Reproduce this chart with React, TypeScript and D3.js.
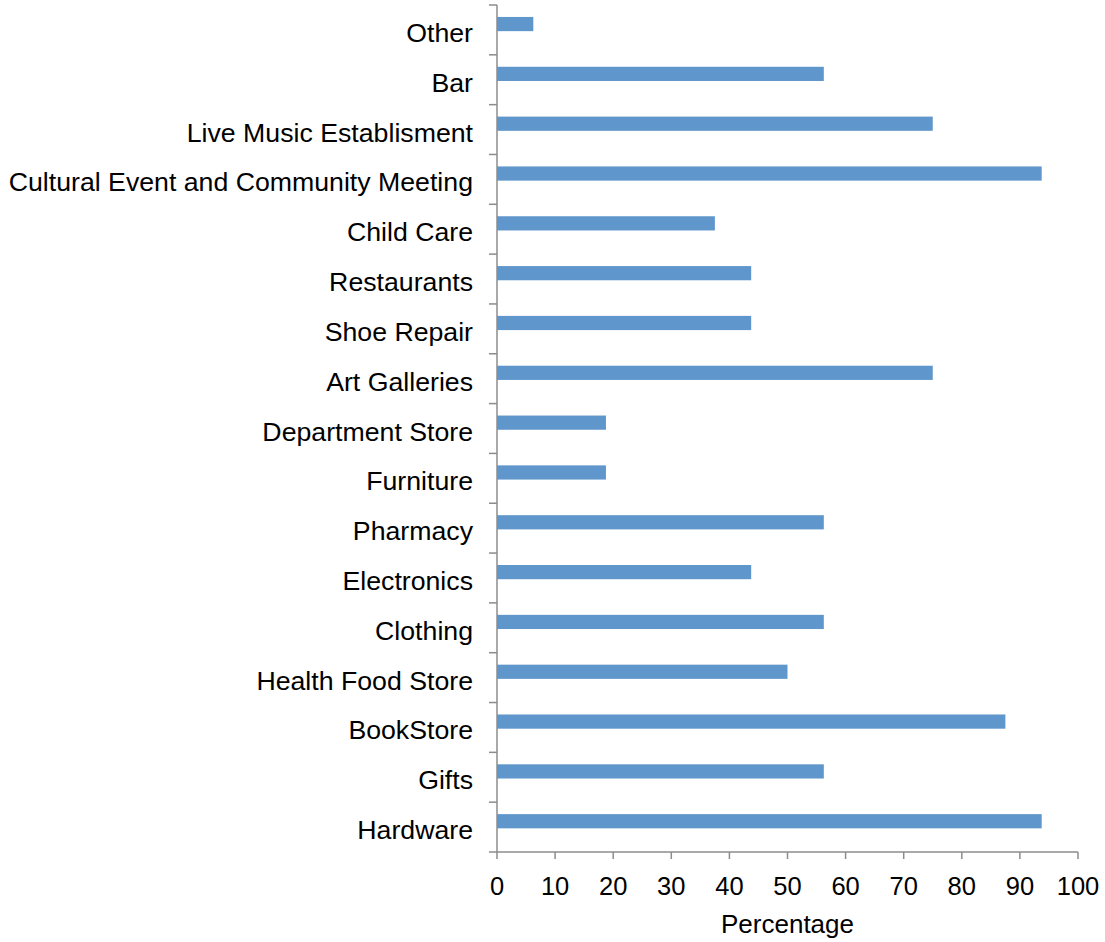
import React from "react";
import * as d3 from "d3";

const categories = [
  "Other",
  "Bar",
  "Live Music Establisment",
  "Cultural Event and Community Meeting",
  "Child Care",
  "Restaurants",
  "Shoe Repair",
  "Art Galleries",
  "Department Store",
  "Furniture",
  "Pharmacy",
  "Electronics",
  "Clothing",
  "Health Food Store",
  "BookStore",
  "Gifts",
  "Hardware",
];
const values = [6.25, 56.25, 75, 93.75, 37.5, 43.75, 43.75, 75, 18.75, 18.75, 56.25, 43.75, 56.25, 50, 87.5, 56.25, 93.75];
const xTicks = [0, 10, 20, 30, 40, 50, 60, 70, 80, 90, 100];
const xTitle = "Percentage";

const W = 1105;
const H = 942;
const left = 497;
const right = 1078;
const top = 5;
const bottom = 852;
const axisColor = "#8c8c8c";
const barColor = "#5f96cb";
const font = "'Liberation Sans', Arial, sans-serif";

export default function App() {
  const x = d3.scaleLinear().domain([0, 100]).range([left, right]);
  const y = d3.scaleBand<string>().domain(categories).range([top, bottom]);
  const bw = y.bandwidth();
  return (
    <svg width={W} height={H} style={{ position: "absolute", left: 0, top: 0 }}>
      <rect width={W} height={H} fill="#fff" />
      {categories.map((c, i) => (
        <rect
          key={c}
          x={x(0)}
          y={(y(c) as number) + bw * 0.24}
          width={x(values[i]) - x(0)}
          height={bw * 0.285}
          fill={barColor}
        />
      ))}
      <line x1={left} x2={left} y1={top} y2={bottom} stroke={axisColor} strokeWidth={1.5} />
      <line x1={left} x2={right} y1={bottom} y2={bottom} stroke={axisColor} strokeWidth={1.5} />
      {categories.map((c) => (
        <line key={"t" + c} x1={left - 8} x2={left} y1={y(c) as number} y2={y(c) as number} stroke={axisColor} strokeWidth={1.5} />
      ))}
      <line x1={left - 8} x2={left} y1={bottom} y2={bottom} stroke={axisColor} strokeWidth={1.5} />
      {xTicks.map((t) => (
        <g key={"x" + t}>
          <line x1={x(t)} x2={x(t)} y1={bottom} y2={bottom + 7} stroke={axisColor} strokeWidth={1.5} />
          <text x={x(t)} y={895} textAnchor="middle" fontFamily={font} fontSize={25.5} fill="#000">
            {t}
          </text>
        </g>
      ))}
      {categories.map((c) => (
        <text
          key={"l" + c}
          x={473}
          y={(y(c) as number) + bw / 2 + 12}
          textAnchor="end"
          fontFamily={font}
          fontSize={26.7}
          fill="#000"
        >
          {c}
        </text>
      ))}
      <text x={(left + right) / 2} y={933} textAnchor="middle" fontFamily={font} fontSize={26} fill="#000">
        {xTitle}
      </text>
    </svg>
  );
}
